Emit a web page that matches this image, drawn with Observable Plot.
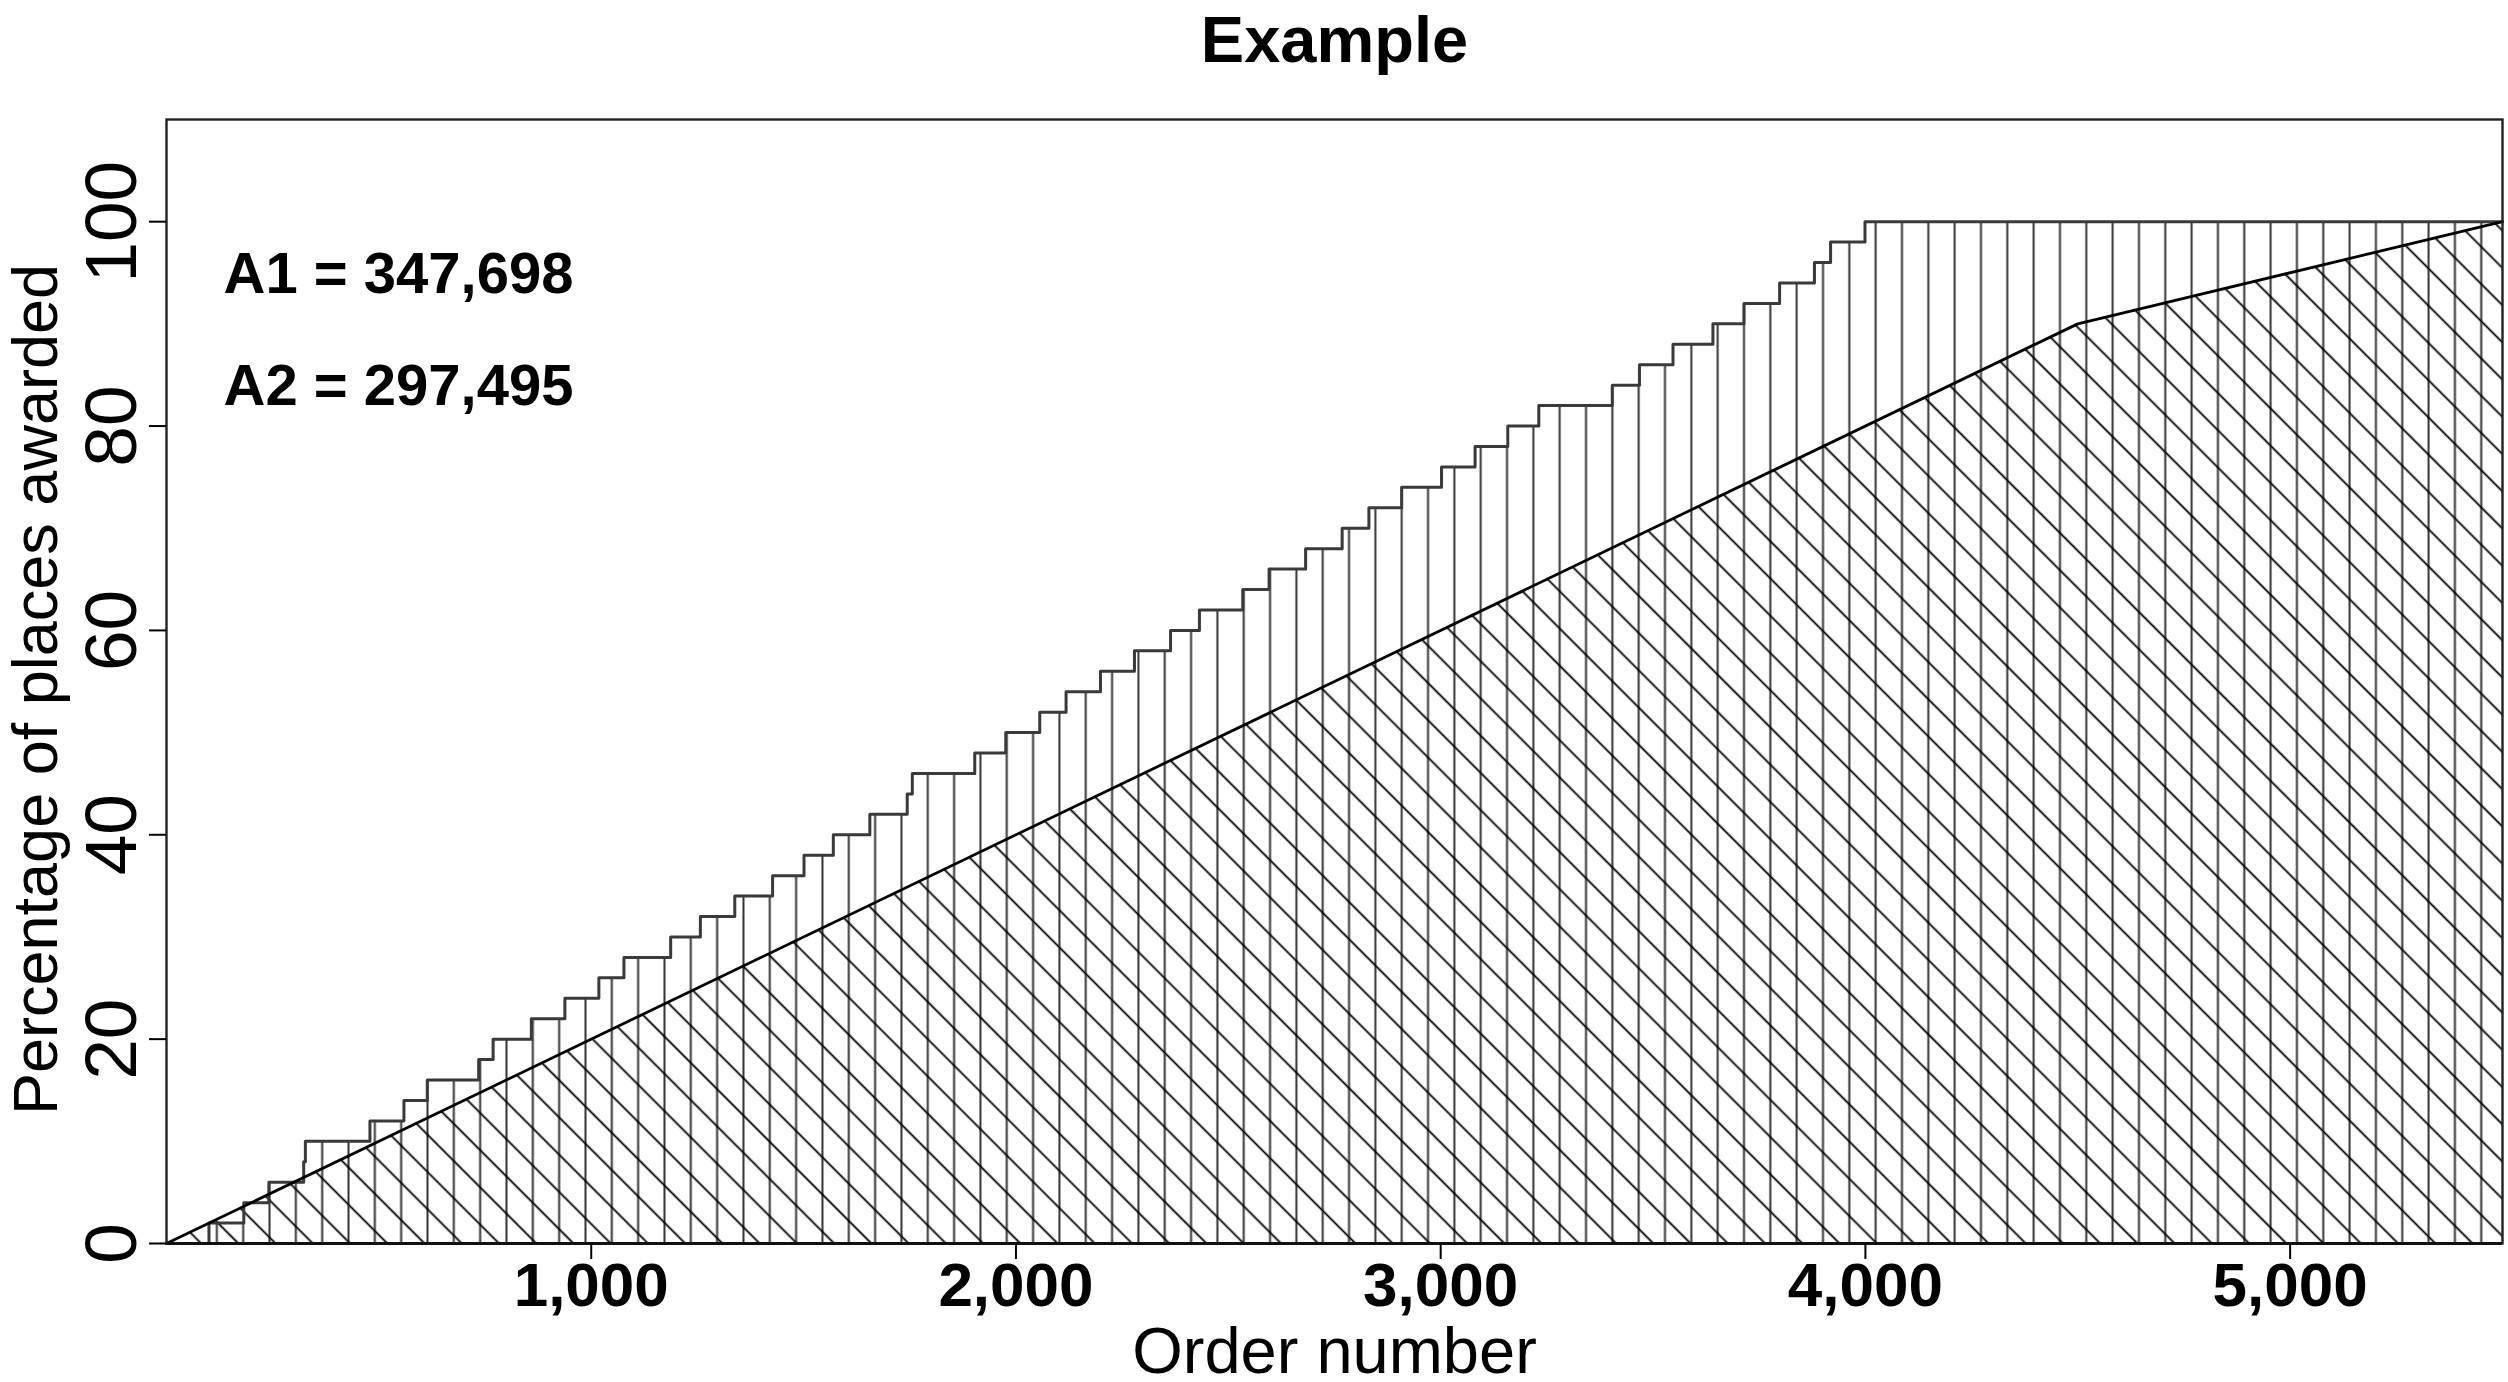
<!DOCTYPE html>
<html><head><meta charset="utf-8">
<script src="https://cdn.jsdelivr.net/npm/d3@7"></script>
<script src="https://cdn.jsdelivr.net/npm/@observablehq/plot@0.6"></script>
<style>
html,body{margin:0;padding:0;background:#fff;overflow:hidden;}
</style></head><body><div id="chart"></div>
<script>
const titleText = "Example";
const xLabel = "Order number";
const yLabel = "Percentage of places awarded";
const annotations = ["A1 = 347,698", "A2 = 297,495"];
const xTicks = [1000, 2000, 3000, 4000, 5000];
const yTicks = [0, 20, 40, 60, 80, 100];
// upper step curve (order number at which the percentage steps up)
const stepOrder = [0,100,182,241,323,327,479,559,614,735,769,859,938,1018,1077,1187,1257,1338,1427,1501,1570,1656,1744,1756,1903,1976,2056,2118,2199,2279,2364,2432,2534,2596,2682,2768,2831,2908,3002,3081,3158,3231,3404,3468,3547,3641,3714,3798,3880,3918,3999,5500];
const stepPercent = [0,2,4,6,8,10,12,14,16,18,20,22,24,26,28,30,32,34,36,38,40,42,44,46,48,50,52,54,56,58,60,62,64,66,68,70,72,74,76,78,80,82,84,86,88,90,92,94,96,98,100,100];
// lower piecewise-linear curve
const lineOrder = [0, 4500, 5500];
const linePercent = [0, 90, 100];

const upper = stepOrder.map((x, i) => ({x, y: stepPercent[i]}));
const lower = lineOrder.map((x, i) => ({x, y: linePercent[i]}));

const FONT = '"Liberation Sans", Arial, Helvetica, sans-serif';

const chart = Plot.plot({
  width: 2508, height: 1382,
  marginLeft: 166, marginRight: 6, marginTop: 119, marginBottom: 139,
  style: {fontFamily: FONT, background: "#fff", color: "#000", overflow: "visible"},
  x: {domain: [0, 5500]},
  y: {domain: [0, 110]},
  marks: [
    Plot.areaY(upper, {x: "x", y: "y", curve: "step-after", fill: "url(#vhatch)"}),
    Plot.areaY(lower, {x: "x", y: "y", fill: "url(#dhatch)"}),
    Plot.lineY(upper, {x: "x", y: "y", curve: "step-after", stroke: "#3a3a3a", strokeWidth: 3}),
    Plot.lineY(lower, {x: "x", y: "y", stroke: "#000", strokeWidth: 2.8}),
    Plot.frame({stroke: "#222", strokeWidth: 2.4}),
    Plot.ruleY([0], {stroke: "#111", strokeWidth: 3.2}),
    Plot.axisX({ticks: xTicks, tickFormat: d3.format(","), tickSize: 16, tickPadding: 2, fontSize: 62, fontWeight: "bold", label: null, strokeWidth: 2}),
    Plot.axisY({ticks: yTicks, tickSize: 17, tickPadding: 14, tickRotate: -90, textAnchor: "middle", lineAnchor: "bottom", fontSize: 73, label: null, strokeWidth: 2}),
    Plot.text([xLabel], {frameAnchor: "bottom", dy: 1372 - 1243, textAnchor: "middle", lineAnchor: "bottom", fontSize: 65}),
    Plot.text([yLabel], {frameAnchor: "left", dx: 56 - 166, dy: 8, rotate: -90, textAnchor: "middle", lineAnchor: "bottom", fontSize: 63}),
    Plot.text([titleText], {frameAnchor: "top", dy: 61.7 - 119, textAnchor: "middle", lineAnchor: "bottom", fontSize: 65, fontWeight: "bold"}),
    Plot.text([annotations[0]], {frameAnchor: "top-left", dx: 57, dy: 173.7, textAnchor: "start", lineAnchor: "bottom", fontSize: 58, fontWeight: "bold"}),
    Plot.text([annotations[1]], {frameAnchor: "top-left", dx: 57, dy: 285, textAnchor: "start", lineAnchor: "bottom", fontSize: 58, fontWeight: "bold"})
  ]
});

const W = 26.33;
const ns = "http://www.w3.org/2000/svg";
const defs = document.createElementNS(ns, "defs");
const vx = 164.2 - W / 2;
const dx = -1042.3 / Math.SQRT2 - W / 2;
defs.innerHTML = `
<pattern id="vhatch" patternUnits="userSpaceOnUse" x="${vx}" y="0" width="${W}" height="40">
  <line x1="${W/2}" y1="0" x2="${W/2}" y2="40" stroke="#333" stroke-width="2"/>
</pattern>
<pattern id="dhatch" patternUnits="userSpaceOnUse" x="${dx}" y="0" width="${W}" height="40" patternTransform="rotate(-45)">
  <line x1="${W/2}" y1="0" x2="${W/2}" y2="40" stroke="#000" stroke-width="1.8"/>
</pattern>`;
chart.insertBefore(defs, chart.firstChild);
document.getElementById("chart").appendChild(chart);
</script>
</body></html>
